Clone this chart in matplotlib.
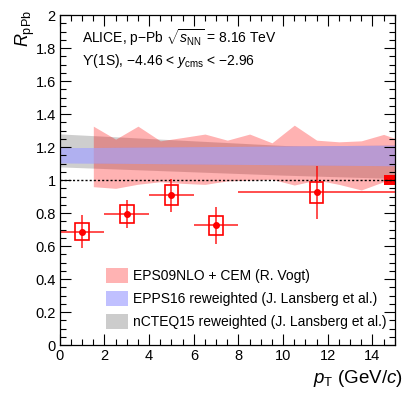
import numpy as np
import matplotlib
matplotlib.use("Agg")
import matplotlib.pyplot as plt
from matplotlib.patches import Patch, Rectangle
from matplotlib.ticker import MultipleLocator

plt.rcParams['font.family'] = ['Liberation Sans', 'DejaVu Sans']
plt.rcParams['mathtext.fontset'] = 'custom'
plt.rcParams['mathtext.rm'] = 'Liberation Sans'
plt.rcParams['mathtext.it'] = 'Liberation Sans:italic'
plt.rcParams['mathtext.bf'] = 'Liberation Sans:bold'

# --- data points: Upsilon(1S) R_pPb vs pT ---
pt = [1.0, 3.0, 5.0, 7.0, 11.5]
pt_lo = [0.0, 2.0, 4.0, 6.0, 8.0]
pt_hi = [2.0, 4.0, 6.0, 8.0, 15.0]
rppb = [0.687, 0.792, 0.909, 0.725, 0.925]
stat = [0.10, 0.085, 0.10, 0.11, 0.16]
syst = [0.05, 0.055, 0.06, 0.057, 0.064]
glob_unc = 0.03

# --- EPS09NLO + CEM band ---
eps_x = [1.5, 2.5, 3.5, 4.5, 5.5, 6.5, 7.5, 8.5, 9.5, 10.5, 11.5, 12.5, 13.5, 14.5, 15.0]
eps_hi = [1.327, 1.248, 1.327, 1.238, 1.258, 1.279, 1.242, 1.279, 1.226, 1.333,
          1.242, 1.232, 1.238, 1.277, 1.253]
eps_lo = [0.960, 0.950, 0.975, 0.990, 0.980, 0.974, 0.995, 1.000, 1.005, 0.970,
          1.000, 0.974, 0.940, 0.990, 0.976]

# --- EPPS16 reweighted band ---
epps_x = [0.0, 15.0]
epps_hi = [1.196, 1.212]
epps_lo = [1.105, 1.087]

# --- nCTEQ15 reweighted band ---
ncteq_x = [0.0, 5.0, 10.0, 15.0]
ncteq_hi = [1.280, 1.245, 1.210, 1.175]
ncteq_lo = [1.080, 1.055, 1.030, 1.010]

fig = plt.figure(figsize=(4.07, 3.98), dpi=100)
ax = fig.add_axes([0.147, 0.133, 0.823, 0.829])

blue = '#b0b0f0'
ax.fill_between(ncteq_x, ncteq_lo, ncteq_hi, color='#808080', alpha=0.38, lw=0)
ax.fill_between(epps_x, epps_lo, epps_hi, color=blue, lw=0)
ax.fill_between(eps_x, eps_lo, eps_hi, color='#ff0000', alpha=0.3, lw=0)
# blue drawn again on top so the overlap looks like the reference
ax.fill_between(epps_x, epps_lo, epps_hi, color=blue, alpha=0.6, lw=0)

ax.axhline(1.0, color='black', ls=(0, (1.5, 1.5)), lw=1.0)

red = '#ff0000'
for x, y, sy in zip(pt, rppb, syst):
    ax.add_patch(Rectangle((x - 0.3, y - sy), 0.6, 2 * sy, fill=False,
                           edgecolor=red, lw=1.2))
ax.errorbar(pt, rppb, yerr=stat,
            xerr=[np.array(pt) - np.array(pt_lo), np.array(pt_hi) - np.array(pt)],
            fmt='none', ecolor=red, elinewidth=1.3, capsize=0, alpha=0.75)
ax.plot(pt, rppb, 'o', color=red, ms=4)

ax.add_patch(Rectangle((14.5, 1 - glob_unc), 0.5, 2 * glob_unc, color=red, lw=0))

ax.set_xlim(0, 15)
ax.set_ylim(0, 2)
ax.xaxis.set_major_locator(MultipleLocator(2))
ax.xaxis.set_minor_locator(MultipleLocator(0.5))
ax.yaxis.set_minor_locator(MultipleLocator(0.05))
ax.set_yticks([0, 0.2, 0.4, 0.6, 0.8, 1, 1.2, 1.4, 1.6, 1.8, 2])
ax.set_yticklabels(['0', '0.2', '0.4', '0.6', '0.8', '1', '1.2', '1.4', '1.6', '1.8', '2'])
ax.tick_params(which='both', direction='in', top=True, right=True, labelsize=10.5)
ax.tick_params(which='major', length=8, width=0.8, pad=3)
ax.tick_params(which='minor', length=4, width=0.8)
for s in ax.spines.values():
    s.set_linewidth(0.9)

ax.text(0.066, 0.93, r'ALICE, p$-$Pb $\sqrt{s_{\rm NN}}$ = 8.16 TeV',
        transform=ax.transAxes, fontsize=10, va='center')
ax.text(0.066, 0.862, r'ϒ(1S), $-$4.46 < $y_{\rm cms}$ < $-$2.96',
        transform=ax.transAxes, fontsize=10, va='center')

fig.text(0.063, 0.975, r'$R_{\rm pPb}$', rotation=90, ha='center', va='top', fontsize=13)
fig.text(0.99, 0.05, r'$p_{\rm T}$ (GeV/$c$)', ha='right', va='center', fontsize=13.5)

handles = [Patch(facecolor='#ffb3b3', edgecolor='none'),
           Patch(facecolor='#c0c0ff', edgecolor='none'),
           Patch(facecolor='#cccccc', edgecolor='none')]
labels = ['EPS09NLO + CEM (R. Vogt)',
          'EPPS16 reweighted (J. Lansberg et al.)',
          'nCTEQ15 reweighted (J. Lansberg et al.)']
ax.legend(handles, labels, loc='lower left', bbox_to_anchor=(0.137, 0.048),
          frameon=False, fontsize=10, handlelength=1.6, handleheight=1.22,
          handletextpad=0.36, labelspacing=0.58, borderaxespad=0, borderpad=0)

fig.savefig('out.png', dpi=100)
